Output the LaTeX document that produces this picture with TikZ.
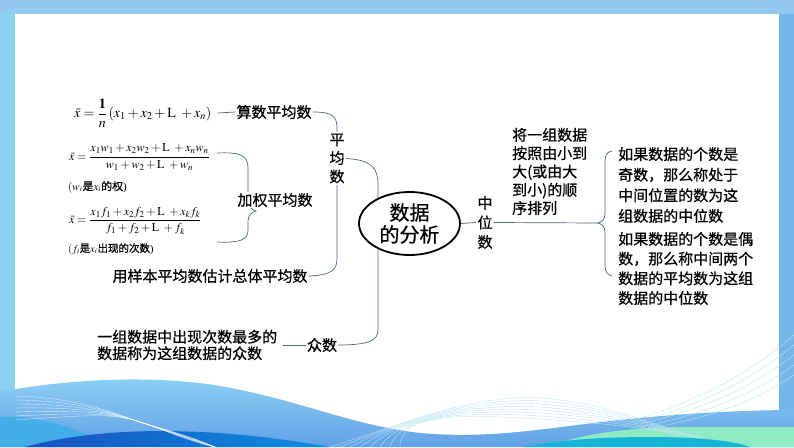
\documentclass[tikz,border=0pt]{standalone}
\usepackage{amsmath}
\usepackage{mathptmx}
\usepackage[no-math]{fontspec}
\setmainfont{Liberation Serif}
\newfontfamily\cjk[FakeBold=0.6]{Noto Sans CJK SC}
\usetikzlibrary{shapes.geometric}
\definecolor{topblue}{RGB}{147,200,240}
\definecolor{leftblue}{RGB}{141,208,242}
\definecolor{rightblue}{RGB}{118,181,234}
\definecolor{wlight}{RGB}{143,210,243}
\definecolor{wmid}{RGB}{98,160,230}
\definecolor{wcyan}{RGB}{67,174,232}
\definecolor{wdark}{RGB}{26,80,192}
\definecolor{wdark2}{RGB}{13,143,224}
\definecolor{mint}{RGB}{142,235,196}
\definecolor{cyanb}{RGB}{23,180,218}
\definecolor{lcyan}{RGB}{190,228,240}
\definecolor{lineblue}{RGB}{80,100,130}
\begin{document}
\begin{tikzpicture}[x=1pt,y=-1pt,
  cn/.style={font=\cjk\fontsize{15}{18}\selectfont, inner sep=1pt},
  vt/.style={cn, align=center, fill=white, inner sep=1.5pt},
  ln/.style={draw=lineblue, line width=0.7pt},
  fm/.style={inner sep=1pt, anchor=west}]
\useasboundingbox (0,0) rectangle (794,447);
% frame
\fill[topblue] (0,0) rectangle (794,14);
\fill[leftblue] (0,14) rectangle (15,447);
\fill[rightblue] (779,14) rectangle (794,447);
% waves
\shade[top color=wlight, bottom color=wmid]
  (0,392) .. controls (60,380) and (150,374) .. (220,386)
  .. controls (300,400) and (350,425) .. (420,433)
  .. controls (500,440) and (560,425) .. (640,418)
  .. controls (700,412) and (760,410) .. (794,410) -- (794,447) -- (0,447) -- cycle;
\fill[wcyan] (0,417) .. controls (40,415) and (80,428) .. (110,447) -- (0,447) -- cycle;
\shade[left color=wdark, right color=wdark2]
  (25,447) .. controls (60,437) and (110,431) .. (160,431)
  .. controls (230,431) and (290,440) .. (330,447) -- cycle;
\fill[mint] (545,447) .. controls (580,435) and (620,428) .. (680,427) -- (794,427) -- (794,447) -- cycle;
\fill[cyanb] (523,447) .. controls (560,440) and (600,437) .. (650,437)
  .. controls (700,437) and (735,441) .. (750,447) -- cycle;
\foreach \i in {0,...,6}
  \draw[white, line width=0.4pt, opacity=0.7] (15,396+\i*4) .. controls (80,398+\i*3) and (110,412) .. (140,422) .. controls (165,430) and (185,440-\i) .. (215,447);
\foreach \i in {0,...,7}
  \draw[lcyan, line width=0.4pt] (330+\i*10,447) .. controls (400,425-\i*2) and (470,394+\i*3) .. (540,398+\i*3) .. controls (600,402+\i*3) and (640,420+\i) .. (700,438);
\foreach \i in {0,...,4}
  \draw[lcyan, line width=0.4pt] (640,430-\i*3) .. controls (700,420-\i*5) and (750,405-\i*8) .. (794,375-\i*10);

\coordinate (jqt) at (217,153);
\coordinate (jqb) at (217,242);
\coordinate (rb) at (598,223);
\coordinate (rbt) at (612,151);
\coordinate (rbb) at (612,276);

% formulas
\node[fm] (f1) at (73,113) {\fontsize{14}{16}\selectfont $\bar{x}=\dfrac{\mathbf{1}}{n}\left(x_1+x_2+\mathrm{L}\ +x_n\right)$};
\node[fm] (f2) at (68,157) {\fontsize{12}{14}\selectfont $\bar{x}=\dfrac{x_1w_1+x_2w_2+\mathrm{L}\ +x_nw_n}{w_1+w_2+\mathrm{L}\ +w_n}$};
\node[fm] (f2n) at (67,187) {\fontsize{11}{13}\selectfont $(w_i${\cjk 是}$x_i${\cjk 的权})};
\node[fm] (f3) at (68,221) {\fontsize{12}{14}\selectfont $\bar{x}=\dfrac{x_1f_1+x_2f_2+\mathrm{L}\ +x_kf_k}{f_1+f_2+\mathrm{L}\ +f_k}$};
\node[fm] (f3n) at (67,249) {\fontsize{10.5}{12}\selectfont $(f_i${\cjk 是}$x_i${\cjk 出现的次数})};

\node[cn] (ssp) at (274,112) {算数平均数};
\node[cn] (yb) at (210,276) {用样本平均数估计总体平均数};
\node[cn, anchor=west, align=left, font=\cjk\fontsize{15}{16.5}\selectfont] (zsd) at (96,345) {一组数据中出现次数最多的\\数据称为这组数据的众数};
\node[cn] (zs) at (322,345) {众数};

\draw[ln] (f1.east) ++(5,0) -- (ssp.west);
\draw[ln] (ssp.east) .. controls (332,112) and (337,116) .. (337,128) -- (337,258)
  .. controls (337,270) and (332,275) .. (yb.east);
\draw[ln] (jqt) .. controls (240,152) and (248,155) .. (248,168) -- (248,200)
  .. controls (248,206) and (252,210) .. (256,211) .. controls (252,212) and (248,215) .. (248,221)
  -- (248,230) .. controls (248,240) and (240,243) .. (jqb);
\node[cn, fill=white] (jq) at (275,200) {加权平均数};

\node[vt, font=\cjk\fontsize{15}{18.5}\selectfont] (pjs) at (337,158.5) {平\\均\\数};
\draw[ln] (pjs.east) .. controls (372,160) and (378,168) .. (378,185) -- (378,330)
  .. controls (378,340) and (370,345) .. (zs.east);
\draw[ln] (zsd.east) ++(5,0) -- (zs.west);

\node[draw=black, line width=1.8pt, fill=white, ellipse, minimum width=101pt, minimum height=63pt, inner sep=0pt,
  align=center, font=\cjk\fontsize{20}{22}\selectfont] (c) at (409.5,223.5) {数据\\的分析};
\node[vt, font=\cjk\fontsize{15}{19.5}\selectfont] (zws) at (485,222.5) {中\\位\\数};
\draw[ln] (c.east) -- (zws.west);
\draw[ln] (zws.east) -- (rb);
\draw[ln] (rbt) .. controls (607,152) and (605,155) .. (605,162) -- (605,214)
  .. controls (605,219) and (602,222) .. (rb) .. controls (602,224) and (605,227) .. (605,232)
  -- (605,266) .. controls (605,272) and (608,275) .. (rbb);

\node[cn, anchor=west, align=left, font=\cjk\fontsize{15}{18.3}\selectfont] (mid) at (511,171.5) {将一组数据\\按照由小到\\大(或由大\\到小)的顺\\序排列};
\node[cn, anchor=west, align=left, font=\cjk\fontsize{15}{20.6}\selectfont] (r1) at (617,185) {如果数据的个数是\\奇数，那么称处于\\中间位置的数为这\\组数据的中位数};
\node[cn, anchor=west, align=left, font=\cjk\fontsize{15}{19.7}\selectfont] (r2) at (617,268.5) {如果数据的个数是偶\\数，那么称中间两个\\数据的平均数为这组\\数据的中位数};
\end{tikzpicture}
\end{document}
